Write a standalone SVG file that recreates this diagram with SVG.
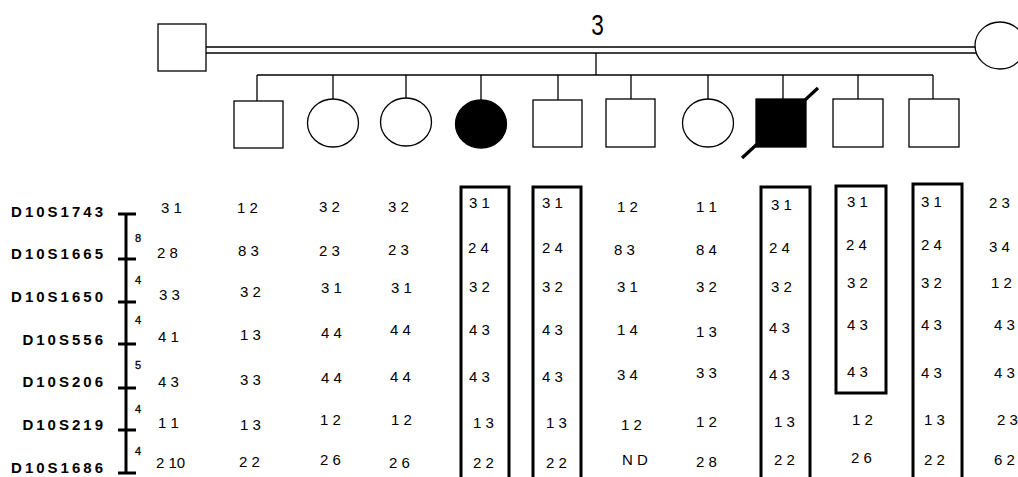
<svg xmlns="http://www.w3.org/2000/svg" width="1018" height="477" viewBox="0 0 1018 477">
<style>
.ln{stroke:#000;stroke-width:1.3;fill:none}
.sym{stroke:#000;stroke-width:1.3;fill:#fff}
.aff{stroke:#000;stroke-width:1.3;fill:#000}
.box{stroke:#000;stroke-width:3;fill:none}
.bar{stroke:#000;stroke-width:3;fill:none}
.d{font-family:"Liberation Sans",Arial,sans-serif;font-size:15px;fill:#000}
.m{font-family:"Liberation Sans",Arial,sans-serif;font-size:15px;font-weight:bold;letter-spacing:3px;fill:#000;text-anchor:end}
.t{font-family:"Liberation Sans",Arial,sans-serif;font-size:11px;fill:#000;stroke:#000;stroke-width:0.3}
.g{font-family:"Liberation Sans",Arial,sans-serif;font-size:29px;fill:#000}
</style>
<rect width="1018" height="477" fill="#fff"/>
<g id="connectors">
<line class="ln" x1="206" y1="47" x2="976" y2="47"/>
<line class="ln" x1="206" y1="53" x2="976" y2="53"/>
<line class="ln" x1="596" y1="53" x2="596" y2="75"/>
<line class="ln" x1="257" y1="75" x2="933" y2="75"/>
<line class="ln" x1="257" y1="75" x2="257" y2="101"/>
<line class="ln" x1="333" y1="75" x2="333" y2="99"/>
<line class="ln" x1="406" y1="75" x2="406" y2="98"/>
<line class="ln" x1="481" y1="75" x2="481" y2="100"/>
<line class="ln" x1="558" y1="75" x2="558" y2="100"/>
<line class="ln" x1="631" y1="75" x2="631" y2="99"/>
<line class="ln" x1="708" y1="75" x2="708" y2="99"/>
<line class="ln" x1="783" y1="75" x2="783" y2="99"/>
<line class="ln" x1="858" y1="75" x2="858" y2="99"/>
<line class="ln" x1="933" y1="75" x2="933" y2="99"/>
</g>
<text class="g" x="0" y="0" text-anchor="middle" transform="translate(597.5 35) scale(0.78 1)">3</text>
<g id="father"><rect class="sym" x="158" y="24" width="48" height="47"/></g>
<g id="mother"><ellipse class="sym" cx="1000" cy="45.5" rx="25" ry="23.5"/></g>
<g id="child1"><rect class="sym" x="234" y="101" width="49" height="47"/></g>
<g id="child2"><ellipse class="sym" cx="333" cy="123" rx="25.5" ry="24"/></g>
<g id="child3"><ellipse class="sym" cx="406" cy="122" rx="25.5" ry="24"/></g>
<g id="child4"><ellipse class="aff" cx="481" cy="124" rx="25.5" ry="24"/></g>
<g id="child5"><rect class="sym" x="533" y="100" width="49" height="47"/></g>
<g id="child6"><rect class="sym" x="606" y="99" width="49" height="48"/></g>
<g id="child7"><ellipse class="sym" cx="708" cy="123" rx="25.5" ry="24"/></g>
<g id="child8"><rect class="aff" x="756" y="99" width="50" height="48"/><line x1="742" y1="158" x2="818" y2="88" stroke="#000" stroke-width="3.2"/></g>
<g id="child9"><rect class="sym" x="833" y="99" width="50" height="48"/></g>
<g id="child10"><rect class="sym" x="909" y="99" width="50" height="48"/></g>

<g id="map">
<line class="bar" x1="126" y1="214" x2="126" y2="474"/>
<line class="bar" x1="118" y1="214" x2="136" y2="214"/>
<line class="bar" x1="118" y1="259" x2="136" y2="259"/>
<line class="bar" x1="118" y1="302" x2="136" y2="302"/>
<line class="bar" x1="118" y1="344" x2="136" y2="344"/>
<line class="bar" x1="118" y1="388" x2="136" y2="388"/>
<line class="bar" x1="118" y1="430" x2="136" y2="430"/>
<line class="bar" x1="118" y1="473" x2="136" y2="473"/>
<text class="t" x="135" y="242">8</text>
<text class="t" x="135" y="284">4</text>
<text class="t" x="135" y="324">4</text>
<text class="t" x="135" y="369">5</text>
<text class="t" x="135" y="413">4</text>
<text class="t" x="135" y="455">4</text>
<text class="m" x="106" y="217">D10S1743</text>
<text class="m" x="106" y="259">D10S1665</text>
<text class="m" x="106" y="302">D10S1650</text>
<text class="m" x="106" y="345">D10S556</text>
<text class="m" x="106" y="387">D10S206</text>
<text class="m" x="106" y="430">D10S219</text>
<text class="m" x="106" y="473">D10S1686</text>
</g>

<g id="boxes">
<rect class="box" x="461" y="187" width="48" height="295"/>
<rect class="box" x="533" y="187" width="48" height="295"/>
<rect class="box" x="761" y="187" width="49" height="295"/>
<rect class="box" x="836" y="186" width="50" height="207"/>
<rect class="box" x="913" y="184" width="49" height="298"/>
</g>

<g id="col1">
<text class="d" x="161" y="213">3 1</text>
<text class="d" x="157" y="258">2 8</text>
<text class="d" x="159" y="300">3 3</text>
<text class="d" x="158" y="342">4 1</text>
<text class="d" x="158" y="387">4 3</text>
<text class="d" x="158" y="428">1 1</text>
<text class="d" x="156" y="468">2 10</text>
</g>
<g id="col2">
<text class="d" x="237" y="213">1 2</text>
<text class="d" x="238" y="256">8 3</text>
<text class="d" x="240" y="297">3 2</text>
<text class="d" x="240" y="340">1 3</text>
<text class="d" x="240" y="385">3 3</text>
<text class="d" x="240" y="430">1 3</text>
<text class="d" x="239" y="467">2 2</text>
</g>
<g id="col3">
<text class="d" x="319" y="212">3 2</text>
<text class="d" x="319" y="256">2 3</text>
<text class="d" x="321" y="293">3 1</text>
<text class="d" x="321" y="338">4 4</text>
<text class="d" x="321" y="383">4 4</text>
<text class="d" x="320" y="425">1 2</text>
<text class="d" x="320" y="465">2 6</text>
</g>
<g id="col4">
<text class="d" x="388" y="212">3 2</text>
<text class="d" x="388" y="255">2 3</text>
<text class="d" x="391" y="293">3 1</text>
<text class="d" x="390" y="335">4 4</text>
<text class="d" x="390" y="382">4 4</text>
<text class="d" x="391" y="425">1 2</text>
<text class="d" x="389" y="468">2 6</text>
</g>
<g id="col5">
<text class="d" x="469" y="208">3 1</text>
<text class="d" x="468" y="253">2 4</text>
<text class="d" x="469" y="292">3 2</text>
<text class="d" x="469" y="335">4 3</text>
<text class="d" x="469" y="382">4 3</text>
<text class="d" x="473" y="428">1 3</text>
<text class="d" x="473" y="468">2 2</text>
</g>
<g id="col6">
<text class="d" x="542" y="208">3 1</text>
<text class="d" x="542" y="253">2 4</text>
<text class="d" x="542" y="292">3 2</text>
<text class="d" x="542" y="335">4 3</text>
<text class="d" x="542" y="382">4 3</text>
<text class="d" x="546" y="428">1 3</text>
<text class="d" x="546" y="468">2 2</text>
</g>
<g id="col7">
<text class="d" x="617" y="212">1 2</text>
<text class="d" x="614" y="255">8 3</text>
<text class="d" x="617" y="292">3 1</text>
<text class="d" x="617" y="335">1 4</text>
<text class="d" x="617" y="380">3 4</text>
<text class="d" x="621" y="430">1 2</text>
<text class="d" x="622" y="465">N D</text>
</g>
<g id="col8">
<text class="d" x="696" y="212">1 1</text>
<text class="d" x="696" y="255">8 4</text>
<text class="d" x="696" y="292">3 2</text>
<text class="d" x="696" y="337">1 3</text>
<text class="d" x="696" y="378">3 3</text>
<text class="d" x="696" y="427">1 2</text>
<text class="d" x="696" y="467">2 8</text>
</g>
<g id="col9">
<text class="d" x="771" y="210">3 1</text>
<text class="d" x="769" y="253">2 4</text>
<text class="d" x="771" y="292">3 2</text>
<text class="d" x="769" y="333">4 3</text>
<text class="d" x="769" y="380">4 3</text>
<text class="d" x="774" y="427">1 3</text>
<text class="d" x="774" y="465">2 2</text>
</g>
<g id="col10">
<text class="d" x="847" y="207">3 1</text>
<text class="d" x="846" y="250">2 4</text>
<text class="d" x="847" y="288">3 2</text>
<text class="d" x="847" y="330">4 3</text>
<text class="d" x="847" y="377">4 3</text>
<text class="d" x="852" y="425">1 2</text>
<text class="d" x="851" y="463">2 6</text>
</g>
<g id="col11">
<text class="d" x="921" y="207">3 1</text>
<text class="d" x="921" y="250">2 4</text>
<text class="d" x="921" y="288">3 2</text>
<text class="d" x="921" y="330">4 3</text>
<text class="d" x="921" y="378">4 3</text>
<text class="d" x="924" y="425">1 3</text>
<text class="d" x="924" y="465">2 2</text>
</g>
<g id="col12">
<text class="d" x="989" y="208">2 3</text>
<text class="d" x="989" y="252">3 4</text>
<text class="d" x="991" y="288">1 2</text>
<text class="d" x="994" y="330">4 3</text>
<text class="d" x="994" y="378">4 3</text>
<text class="d" x="997" y="425">2 3</text>
<text class="d" x="994" y="465">6 2</text>
</g>
</svg>
